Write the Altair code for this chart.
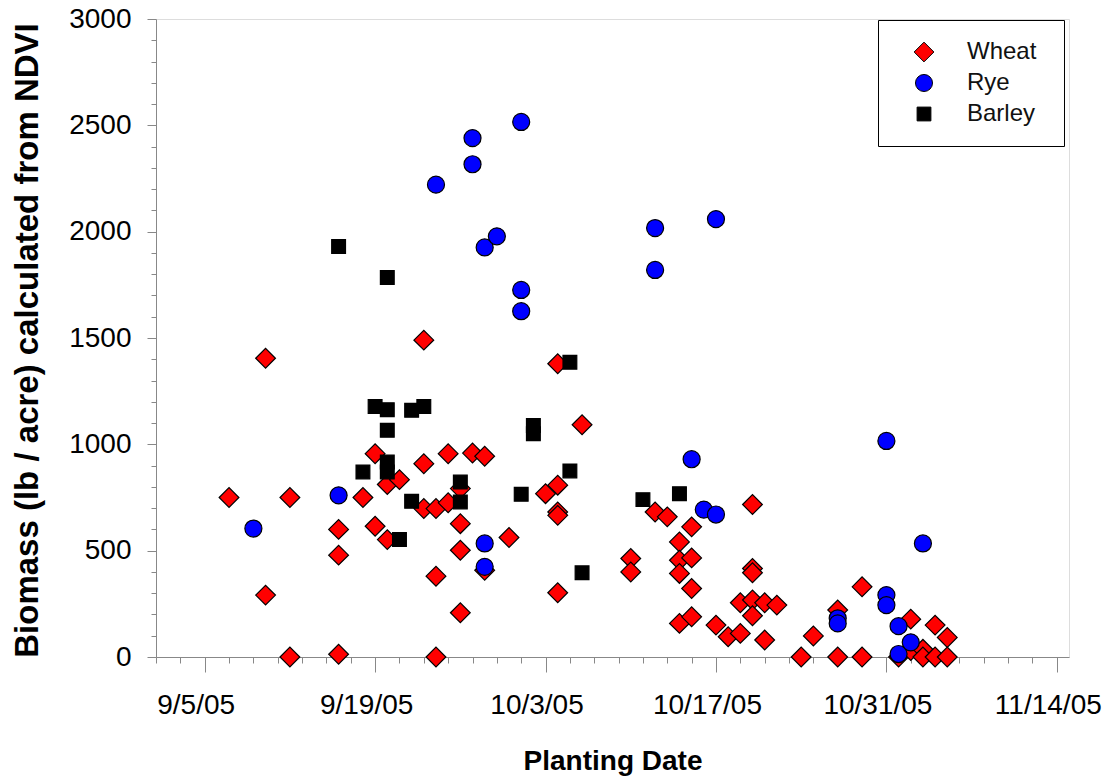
import altair as alt
import pandas as pd

# ---- data ----
wheat_dates = [
    "2005/09/07", "2005/09/10", "2005/09/10", "2005/09/12", "2005/09/12",
    "2005/09/16", "2005/09/16", "2005/09/16", "2005/09/18", "2005/09/19",
    "2005/09/19", "2005/09/20", "2005/09/20", "2005/09/21", "2005/09/23",
    "2005/09/23", "2005/09/23", "2005/09/24", "2005/09/24", "2005/09/24",
    "2005/09/25", "2005/09/25", "2005/09/26", "2005/09/26", "2005/09/26",
    "2005/09/26", "2005/09/27", "2005/09/28", "2005/09/28", "2005/09/30",
    "2005/10/03", "2005/10/04", "2005/10/04", "2005/10/04", "2005/10/04",
    "2005/10/04", "2005/10/06", "2005/10/10", "2005/10/10", "2005/10/12",
    "2005/10/13", "2005/10/14", "2005/10/14", "2005/10/14", "2005/10/14",
    "2005/10/15", "2005/10/15", "2005/10/15", "2005/10/15", "2005/10/17",
    "2005/10/18", "2005/10/19", "2005/10/19", "2005/10/20", "2005/10/20",
    "2005/10/20", "2005/10/20", "2005/10/20", "2005/10/21", "2005/10/21",
    "2005/10/22", "2005/10/24", "2005/10/25", "2005/10/27", "2005/10/27",
    "2005/10/29", "2005/10/29", "2005/11/01", "2005/11/02", "2005/11/02",
    "2005/11/03", "2005/11/03", "2005/11/04", "2005/11/04", "2005/11/05",
    "2005/11/05",
]
wheat_values = [
    750, 1405, 291, 750, 0,
    600, 479, 13, 750, 956,
    615, 811, 552, 834, 1490,
    909, 698, 698, 380, 0,
    956, 725, 792, 627, 502,
    208, 959, 944, 408, 562,
    768, 1379, 808, 682, 666,
    302, 1092, 463, 400, 682,
    659, 541, 455, 393, 158,
    612, 466, 322, 189, 150,
    95, 111, 255, 717, 416,
    396, 268, 194, 255, 80,
    244, 0, 99, 221, 0,
    330, 0, 0, 178, 30,
    36, 0, 150, 0, 92,
    0,
]

rye_dates = [
    "2005/09/09", "2005/09/16", "2005/09/24", "2005/09/27", "2005/09/27",
    "2005/09/28", "2005/09/28", "2005/09/28", "2005/09/29", "2005/10/01",
    "2005/10/01", "2005/10/01", "2005/10/12", "2005/10/12", "2005/10/15",
    "2005/10/16", "2005/10/17", "2005/10/17", "2005/10/27", "2005/10/27",
    "2005/10/31", "2005/10/31", "2005/10/31", "2005/11/01", "2005/11/01",
    "2005/11/02", "2005/11/03",
]
rye_values = [
    604, 760, 2221, 2440, 2317,
    1926, 534, 424, 1978, 2516,
    1726, 1626, 2017, 1820, 930,
    693, 2059, 670, 182, 158,
    1016, 291, 244, 145, 14,
    69, 534,
]

barley_dates = [
    "2005/09/16", "2005/09/18", "2005/09/19", "2005/09/20", "2005/09/20",
    "2005/09/20", "2005/09/20", "2005/09/20", "2005/09/21", "2005/09/22",
    "2005/09/22", "2005/09/23", "2005/09/26", "2005/09/26", "2005/10/01",
    "2005/10/02", "2005/10/02", "2005/10/05", "2005/10/05", "2005/10/06",
    "2005/10/11", "2005/10/14",
]
barley_values = [
    1930, 870, 1178, 1785, 1163,
    1066, 917, 870, 552, 1160,
    732, 1178, 823, 729, 765,
    1089, 1050, 1386, 875, 396,
    740, 768,
]

crops = ["Wheat", "Rye", "Barley"]
crop_colors = ["#ff0000", "#0000ff", "#000000"]
crop_shapes = ["diamond", "circle", "square"]

x_major_labels = ["9/5/05", "9/19/05", "10/3/05", "10/17/05", "10/31/05", "11/14/05"]
y_major_labels = ["0", "500", "1000", "1500", "2000", "2500", "3000"]

# ---- table ----
rows = []
for name, dates, vals in [("Wheat", wheat_dates, wheat_values),
                          ("Rye", rye_dates, rye_values),
                          ("Barley", barley_dates, barley_values)]:
    for d, v in zip(dates, vals):
        rows.append({"date": d, "biomass": v, "crop": name})
df = pd.DataFrame(rows)

# axis tick positions: every 2 days (minor), every 14 days from 9/5 (major)
x_tick_values = []
for k in range(0, 76, 2):
    day = 1 + k
    if day <= 30:
        x_tick_values.append(alt.DateTime(year=2005, month=9, date=day))
    elif day <= 61:
        x_tick_values.append(alt.DateTime(year=2005, month=10, date=day - 30))
    else:
        x_tick_values.append(alt.DateTime(year=2005, month=11, date=day - 61))

days_expr = "round((datum.value - datetime(2005,8,5))/86400000)"
is_major_x = f"({days_expr}) % 14 == 0 && ({days_expr}) >= 0"
labels_js = "[" + ",".join(f"'{s}'" for s in x_major_labels) + "]"
x_label_expr = f"{is_major_x} ? {labels_js}[({days_expr})/14] : ''"

y_tick_values = list(range(0, 3001, 100))
is_major_y = "datum.value % 500 == 0"
ylabels_js = "[" + ",".join(f"'{s}'" for s in y_major_labels) + "]"
y_label_expr = f"{is_major_y} ? {ylabels_js}[datum.value / 500] : ''"

W, H = 913, 638

chart = alt.Chart(df).mark_point(
    filled=True, stroke="black", strokeWidth=1.2, opacity=1
).encode(
    x=alt.X(
        "date:T",
        scale=alt.Scale(domain=[alt.DateTime(year=2005, month=9, date=1),
                                alt.DateTime(year=2005, month=11, date=15)]),
        axis=alt.Axis(
            title="Planting Date",
            grid=False,
            values=x_tick_values,
            labelExpr=x_label_expr,
            labelOverlap=False,
            labelFlush=False,
            labelOffset=-9,
            tickSize={"condition": {"test": is_major_x, "value": 15}, "value": 6},
            labelPadding=19,
            labelFontSize=28,
            titleFontSize=28,
            titleFontWeight="bold",
            titleX=W / 2,
            titleY=112,
            titleBaseline="alphabetic",
            titleAnchor="middle",
            titleAlign="center",
        ),
    ),
    y=alt.Y(
        "biomass:Q",
        scale=alt.Scale(domain=[0, 3000], nice=False, zero=True),
        axis=alt.Axis(
            title="Biomass (lb / acre) calculated from NDVI",
            grid=False,
            values=y_tick_values,
            labelExpr=y_label_expr,
            labelOverlap=False,
            labelFlush=False,
            tickSize={"condition": {"test": is_major_y, "value": 9}, "value": 5},
            labelPadding=16,
            labelFontSize=28,
            titleFontSize=33,
            titleFontWeight="bold",
            titleAngle=270,
            titleX=-119,
            titleY=H / 2 + 2,
            titleBaseline="alphabetic",
            titleAlign="center",
        ),
    ),
    color=alt.Color(
        "crop:N",
        scale=alt.Scale(domain=crops, range=crop_colors),
        legend=alt.Legend(
            title="\u00a0",
            titleOrient="right",
            titleFontSize=4,
            titlePadding=8,
            orient="none",
            legendX=722,
            legendY=1,
            padding=20,
            symbolOffset=14,
            labelOffset=31,
            rowPadding=7,
            symbolSize=210,
            symbolStrokeColor="black",
            symbolStrokeWidth=1,
            labelFontSize=24,
            labelFont="Liberation Sans",
            labelColor="#111111",
            strokeColor="black",
            fillColor="white",
        ),
    ),
    shape=alt.Shape(
        "crop:N",
        scale=alt.Scale(domain=crops, range=crop_shapes),
    ),
    size=alt.Size(
        "crop:N",
        scale=alt.Scale(domain=crops, range=[390, 190, 200]),
        legend=None,
    ),
    order=alt.Order("order:Q"),
).transform_calculate(
    order="datum.crop == 'Wheat' ? 0 : (datum.crop == 'Rye' ? 1 : 2)"
).properties(
    width=W,
    height=H,
    autosize=alt.AutoSizeParams(type="none"),
    padding={"left": 156, "top": 19, "right": 44, "bottom": 125},
).configure_view(
    stroke="black", strokeWidth=2
).configure_legend(
    strokeWidth=2,
    cornerRadius=0,
).configure_axis(
    grid=False,
    domainColor="black",
    domainWidth=2,
    tickColor="black",
    tickWidth=1.5,
    labelFont="Liberation Sans",
    labelColor="#1a1a1a",
    titleFont="Liberation Sans",
    titleColor="#111111",
).configure(
    background="white"
)

chart.save("out.html", embed_options={"renderer": "svg", "actions": False})
